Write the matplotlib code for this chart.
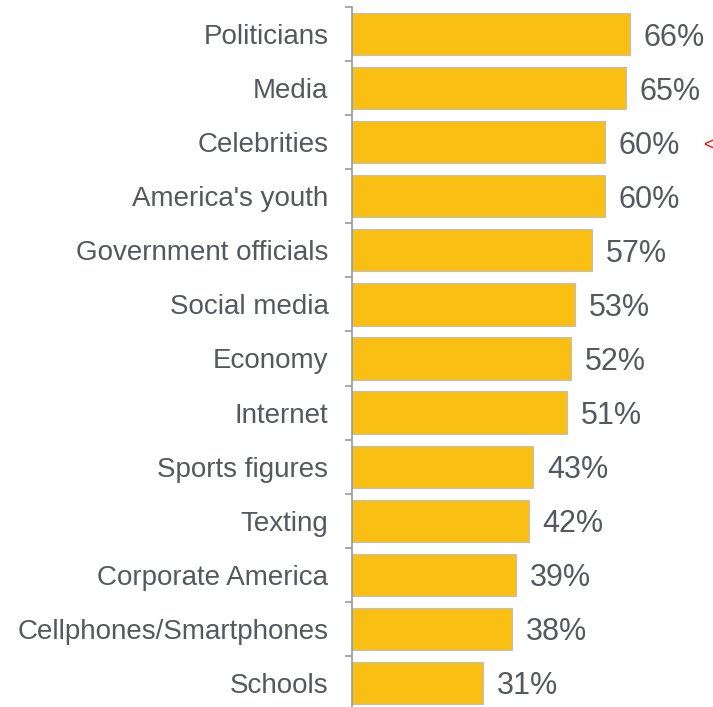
import matplotlib.pyplot as plt

categories = ['Politicians', 'Media', 'Celebrities', "America's youth", 'Government officials',
              'Social media', 'Economy', 'Internet', 'Sports figures', 'Texting',
              'Corporate America', 'Cellphones/Smartphones', 'Schools']
values = [66, 65, 60, 60, 57, 53, 52, 51, 43, 42, 39, 38, 31]

bar_color = '#F9C013'
text_color = '#55595F'
plt.rcParams['font.family'] = ['Liberation Sans', 'DejaVu Sans']

fig = plt.figure(figsize=(7.13, 7.07), dpi=100)
ax = fig.add_axes([352 / 713, -3 / 707, 361 / 713, 703 / 707])

pos = list(range(len(categories)))
ax.barh(pos, values, height=0.78, color=bar_color, edgecolor='#BFBFBF', linewidth=0.8)

for p, v in zip(pos, values):
    ax.annotate(f'{v}%', xy=(v, p), xytext=(10, 0), textcoords='offset points',
                va='center_baseline', ha='left', fontsize=22, color=text_color)

ax.set_xlim(0, 361 / 4.21)
ax.set_ylim(len(categories) - 0.5, -0.5)

ax.set_yticks(pos)
ax.set_yticklabels(categories, fontsize=20, color=text_color, va='center_baseline')
ax.tick_params(axis='y', which='major', length=0, pad=17)
ax.set_yticks([p - 0.5 for p in pos] + [len(pos) - 0.5], minor=True)
ax.tick_params(axis='y', which='minor', length=5, color='#999999', width=1.2)
ax.set_xticks([])

for side in ['top', 'right', 'bottom']:
    ax.spines[side].set_visible(False)
ax.spines['left'].set_color('#999999')
ax.spines['left'].set_linewidth(1.2)

fig.text(703 / 713, 1 - 146 / 707, '<', color='red', fontsize=13, va='center', ha='left')

fig.savefig('out.png', dpi=100)
